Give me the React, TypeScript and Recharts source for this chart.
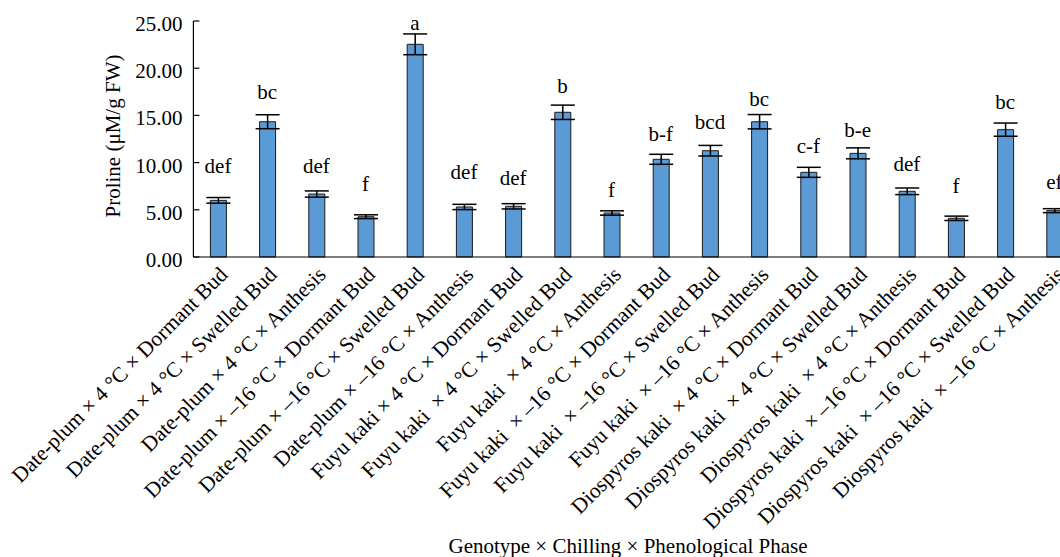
import React from 'react';
import { ComposedChart, Bar, Line, XAxis, YAxis, ErrorBar, LabelList } from 'recharts';

const categories = [
  'Date-plum × 4 °C × Dormant Bud',
  'Date-plum × 4 °C × Swelled Bud',
  'Date-plum × 4 °C × Anthesis',
  'Date-plum × –16 °C × Dormant Bud',
  'Date-plum × –16 °C × Swelled Bud',
  'Date-plum × –16 °C × Anthesis',
  'Fuyu kaki × 4 °C × Dormant Bud',
  'Fuyu kaki  × 4 °C × Swelled Bud',
  'Fuyu kaki  × 4 °C × Anthesis',
  'Fuyu kaki  × –16 °C × Dormant Bud',
  'Fuyu kaki  × –16 °C × Swelled Bud',
  'Fuyu kaki  × –16 °C × Anthesis',
  'Diospyros kaki  × 4 °C × Dormant Bud',
  'Diospyros kaki  × 4 °C × Swelled Bud',
  'Diospyros kaki  × 4 °C × Anthesis',
  'Diospyros kaki  × –16 °C × Dormant Bud',
  'Diospyros kaki  × –16 °C × Swelled Bud',
  'Diospyros kaki  × –16 °C × Anthesis',
];

const proline = [6.0, 14.33, 6.67, 4.27, 22.53, 5.3, 5.37, 15.33, 4.66, 10.35, 11.26, 14.33, 8.97, 10.98, 6.96, 4.1, 13.49, 4.91];
const stdErr = [0.3, 0.74, 0.33, 0.2, 1.1, 0.28, 0.28, 0.76, 0.23, 0.53, 0.56, 0.76, 0.53, 0.58, 0.35, 0.23, 0.7, 0.21];
const letters = ['def', 'bc', 'def', 'f', 'a', 'def', 'def', 'b', 'f', 'b-f', 'bcd', 'bc', 'c-f', 'b-e', 'def', 'f', 'bc', 'ef'];
const letterHeights = [8.93, 16.74, 8.93, 7.02, 24.05, 8.23, 7.6, 17.4, 6.32, 12.32, 13.53, 16.0, 11.05, 12.68, 9.14, 6.81, 15.65, 7.17];
const yTicks = [0, 5, 10, 15, 20, 25];
const xTitle = 'Genotype × Chilling × Phenological Phase';
const yTitle = 'Proline (μM/g FW)';

const data = categories.map((c, i) => ({
  name: c,
  value: proline[i],
  err: stdErr[i],
  letter: letters[i],
  lh: letterHeights[i],
}));

const FONT = '"Liberation Serif", "Times New Roman", serif';

const XTick = (props: any) => {
  const { x, y, payload } = props;
  return (
    <text
      x={x}
      y={y}
      dy="0.71em"
      textAnchor="end"
      transform={`rotate(-45, ${x}, ${y})`}
      fontFamily={FONT}
      fontSize={21.5}
      fill="#000"
      style={{ whiteSpace: 'pre' }}
    >
      {payload.value}
    </text>
  );
};

const YTick = (props: any) => {
  const { x, y, payload } = props;
  return (
    <g>
      <line x1={x + 11} x2={x + 17} y1={y} y2={y} stroke="#000" strokeWidth={1.2} />
      <text x={x} y={y + 10} textAnchor="end" fontFamily={FONT} fontSize={21} fill="#000">
        {Number(payload.value).toFixed(2)}
      </text>
    </g>
  );
};

const renderLetter = (props: any) => {
  const { x, y, value } = props;
  return (
    <text x={x} y={y} textAnchor="middle" fontFamily={FONT} fontSize={21} fill="#000">
      {value}
    </text>
  );
};

export default function App() {
  return (
    <div style={{ position: 'absolute', left: 0, top: 0, width: 1060, height: 557, overflow: 'hidden', background: '#fff' }}>
      <ComposedChart
        width={1130}
        height={557}
        data={data}
        margin={{ top: 21, right: 51, left: 133.4, bottom: 0 }}
      >
        <XAxis
          dataKey="name"
          interval={0}
          height={300}
          tick={<XTick />}
          tickLine={false}
          tickSize={0}
          tickMargin={8}
          axisLine={{ stroke: '#000', strokeWidth: 1.2 }}
        />
        <YAxis
          width={60}
          domain={[0, 25]}
          ticks={yTicks}
          interval={0}
          tick={<YTick />}
          tickLine={false}
          tickSize={0}
          tickMargin={11}
          axisLine={{ stroke: '#000', strokeWidth: 1.2 }}
        />
        <Bar dataKey="value" barSize={16} fill="#5B9BD5" stroke="#1a1a1a" strokeWidth={1} isAnimationActive={false}>
          <ErrorBar dataKey="err" width={12} stroke="#000" strokeWidth={1.5} direction="y" />
        </Bar>
        <Line dataKey="lh" stroke="none" dot={false} activeDot={false} isAnimationActive={false}>
          <LabelList dataKey="letter" content={renderLetter} />
        </Line>
      </ComposedChart>
      <svg width={1060} height={557} style={{ position: 'absolute', left: 0, top: 0, pointerEvents: 'none' }}>
        <text x={628} y={553} textAnchor="middle" fontFamily={FONT} fontSize={21} fill="#000">
          {xTitle}
        </text>
        <text
          x={119.5}
          y={136}
          textAnchor="middle"
          transform="rotate(-90, 119.5, 136)"
          fontFamily={FONT}
          fontSize={21}
          fill="#000"
        >
          {yTitle}
        </text>
      </svg>
    </div>
  );
}
